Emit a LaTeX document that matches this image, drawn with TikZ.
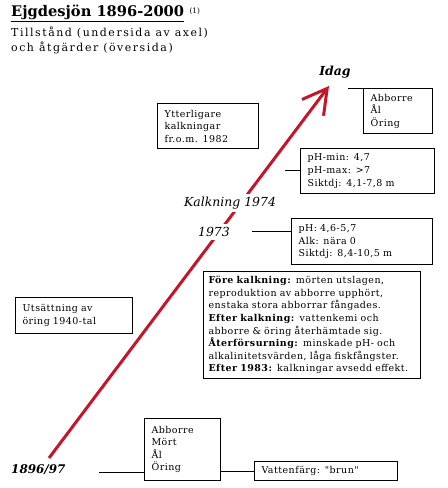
\documentclass[tikz,border=0pt]{standalone}
\usepackage{fontspec}
\setmainfont{DejaVu Serif}
\newfontfamily\boxfont[LetterSpace=5]{DejaVu Serif}
\newfontfamily\subfont[LetterSpace=14]{DejaVu Serif}
\definecolor{axisred}{RGB}{200,20,40}
\usetikzlibrary{arrows.meta}

\begin{document}
\begin{tikzpicture}[
    x=1bp, y=-1bp,
    box/.style={rectangle, draw, line width=1.1pt, anchor=north west, align=left, inner xsep=7bp, inner ysep=3bp, font=\boxfont\fontsize{9.5}{12.6}\selectfont},
    link/.style={line width=0.6pt},
    yearlbl/.style={fill=white, inner sep=3bp, font=\fontsize{12.5}{14}\selectfont\itshape},
    arr/.style={-{Straight Barb[length=24bp, width=27bp]}, line width=3pt, axisred}
]
\useasboundingbox (0,0) rectangle (448,488);

% title
\node[anchor=south west, inner sep=0, font=\fontsize{14.7}{16}\selectfont\bfseries] (title) at (11,22) {\underline{Ejgdesjön 1896-2000}};
\node[anchor=west, inner sep=0, font=\fontsize{7.5}{8}\selectfont] (note) at ([xshift=5bp, yshift=2bp]title.east) {(1)};
\node[anchor=north west, inner sep=0, align=left, font=\subfont\fontsize{11}{15}\selectfont] (sub) at (11,27) {Tillstånd (undersida av axel)\\och åtgärder (översida)};

% time axis
\coordinate (start) at (49,458);
\coordinate (now) at (329,86);
\draw[arr] (start) -- (now);

\node[font=\fontsize{12.5}{14}\selectfont\bfseries\itshape] (idag) at (335,72) {Idag};
\node[yearlbl] (k74) at (230,203) {Kalkning 1974};
\node[yearlbl] (y73) at (214,232) {1973};
\node[font=\fontsize{12}{14}\selectfont\bfseries\itshape, anchor=west, inner sep=0] (y96) at (11,470) {1896/97};

% boxes
\node[box, text width=55bp, minimum height=45bp] (fishnow) at (363,88) {Abborre\\Ål\\Öring};
\node[box, text width=87bp, minimum height=45bp] (extra) at (157,103) {Ytterligare\\kalkningar\\fr.o.m. 1982};
\node[box, text width=120bp, minimum height=45bp] (ph74) at (300,148) {pH-min: 4,7\\pH-max: >7\\Siktdj: 4,1-7,8 m};
\node[box, text width=127bp, minimum height=46bp] (ph73) at (291,218) {pH: 4,6-5,7\\Alk: nära 0\\Siktdj: 8,4-10,5 m};
\node[box, text width=207bp, minimum height=107bp, inner xsep=5bp] (story) at (203,271) {\textbf{Före kalkning:} mörten utslagen,\\reproduktion av abborre upphört,\\enstaka stora abborrar fångades.\\\textbf{Efter kalkning:} vattenkemi och\\abborre \& öring återhämtade sig.\\\textbf{Återförsurning:} minskade pH- och\\alkalinitetsvärden, låga fiskfångster.\\\textbf{Efter 1983:} kalkningar avsedd effekt.};
\node[box, text width=103bp, minimum height=36bp] (trout) at (15,297) {Utsättning av\\öring 1940-tal};
\node[box, text width=62bp, minimum height=62bp] (fishold) at (144,418) {Abborre\\Mört\\Ål\\Öring};
\node[box, text width=129bp, minimum height=19bp, inner ysep=1bp] (colour) at (254,461) {Vattenfärg: "brun"};

% connectors
\coordinate (cnow) at (348,88);
\coordinate (c74) at (285,170);
\coordinate (c73) at (252,231);
\coordinate (c96) at (99,472);
\draw[link] (cnow) -- (fishnow.north west);
\draw[link] (c74) -- (c74 -| ph74.west);
\draw[link] (c73) -- (c73 -| ph73.west);
\draw[link] (c96) -- (c96 -| fishold.west);
\draw[link] (colour.west -| fishold.east) -- (colour.west);
\end{tikzpicture}
\end{document}
